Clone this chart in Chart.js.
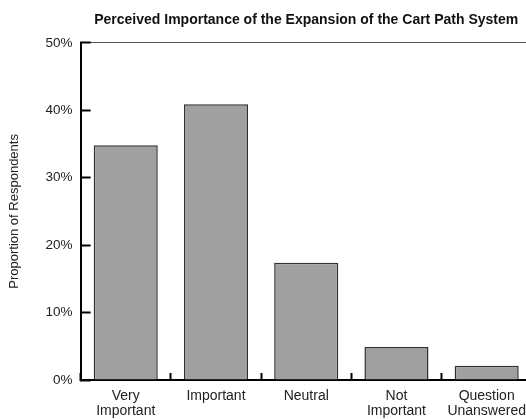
<!DOCTYPE html>
<html>
<head>
<meta charset="utf-8">
<script src="https://cdn.jsdelivr.net/npm/chart.js@4.4.1/dist/chart.umd.min.js"></script>
<style>
  html, body { margin: 0; padding: 0; background: #fff; overflow: hidden; }
  #wrap { width: 542px; height: 419px; }
</style>
</head>
<body>
<div id="wrap"><canvas id="importanceChart"></canvas></div>
<script>
// Data
const categories = [['Very', 'Important'], 'Important', 'Neutral', ['Not', 'Important'], ['Question', 'Unanswered']];
const proportions = [34.8, 40.9, 17.4, 4.9, 2.1];
const yTicks = [0, 10, 20, 30, 40, 50];

const ctx = document.getElementById('importanceChart').getContext('2d');
const font = 'Liberation Sans, Arial, sans-serif';

const config = {
    type: 'bar',
    data: {
        labels: categories,
        datasets: [{
            label: 'Proportion of Respondents',
            data: proportions,
            backgroundColor: '#a0a0a0',
            borderColor: '#303030',
            borderWidth: 1.5,
            categoryPercentage: 1,
            barPercentage: 0.71
        }]
    },
    options: {
        responsive: true,
        maintainAspectRatio: false,
        animation: false,
        layout: { padding: { left: 3, right: 6, top: 0, bottom: 1 } },
        scales: {
            x: {
                afterFit: axis => { axis.height = 38; },
                grid: {
                    offset: true,
                    drawOnChartArea: false,
                    drawTicks: true,
                    tickLength: -7,
                    tickWidth: 2,
                    tickColor: '#000'
                },
                border: { color: '#000', width: 2 },
                ticks: {
                    color: '#222',
                    padding: 15,
                    maxRotation: 0,
                    autoSkip: false,
                    font: { family: font, size: 14, lineHeight: 1.1 }
                }
            },
            y: {
                min: 0,
                max: 50,
                afterBuildTicks: axis => { axis.ticks = yTicks.map(v => ({ value: v })); },
                grid: {
                    color: c => (c.tick && c.tick.value === 50 ? '#555' : 'transparent'),
                    lineWidth: 1,
                    tickLength: -10,
                    tickWidth: 2,
                    tickColor: '#000'
                },
                border: { color: '#000', width: 2 },
                ticks: {
                    color: '#222',
                    padding: 18,
                    font: { family: font, size: 13.5 },
                    callback: v => v + '%'
                },
                title: {
                    display: true,
                    text: 'Proportion of Respondents',
                    color: '#222',
                    font: { family: font, size: 13 },
                    padding: { top: 4, bottom: 5 }
                }
            }
        },
        plugins: {
            legend: { display: false },
            tooltip: { enabled: false },
            title: {
                display: true,
                fullSize: false,
                text: 'Perceived Importance of the Expansion of the Cart Path System',
                color: '#111',
                font: { family: font, size: 14, weight: 'bold' },
                padding: { top: 12, bottom: 14 }
            }
        }
    }
};

const importanceChart = new Chart(ctx, config);
</script>
</body>
</html>
